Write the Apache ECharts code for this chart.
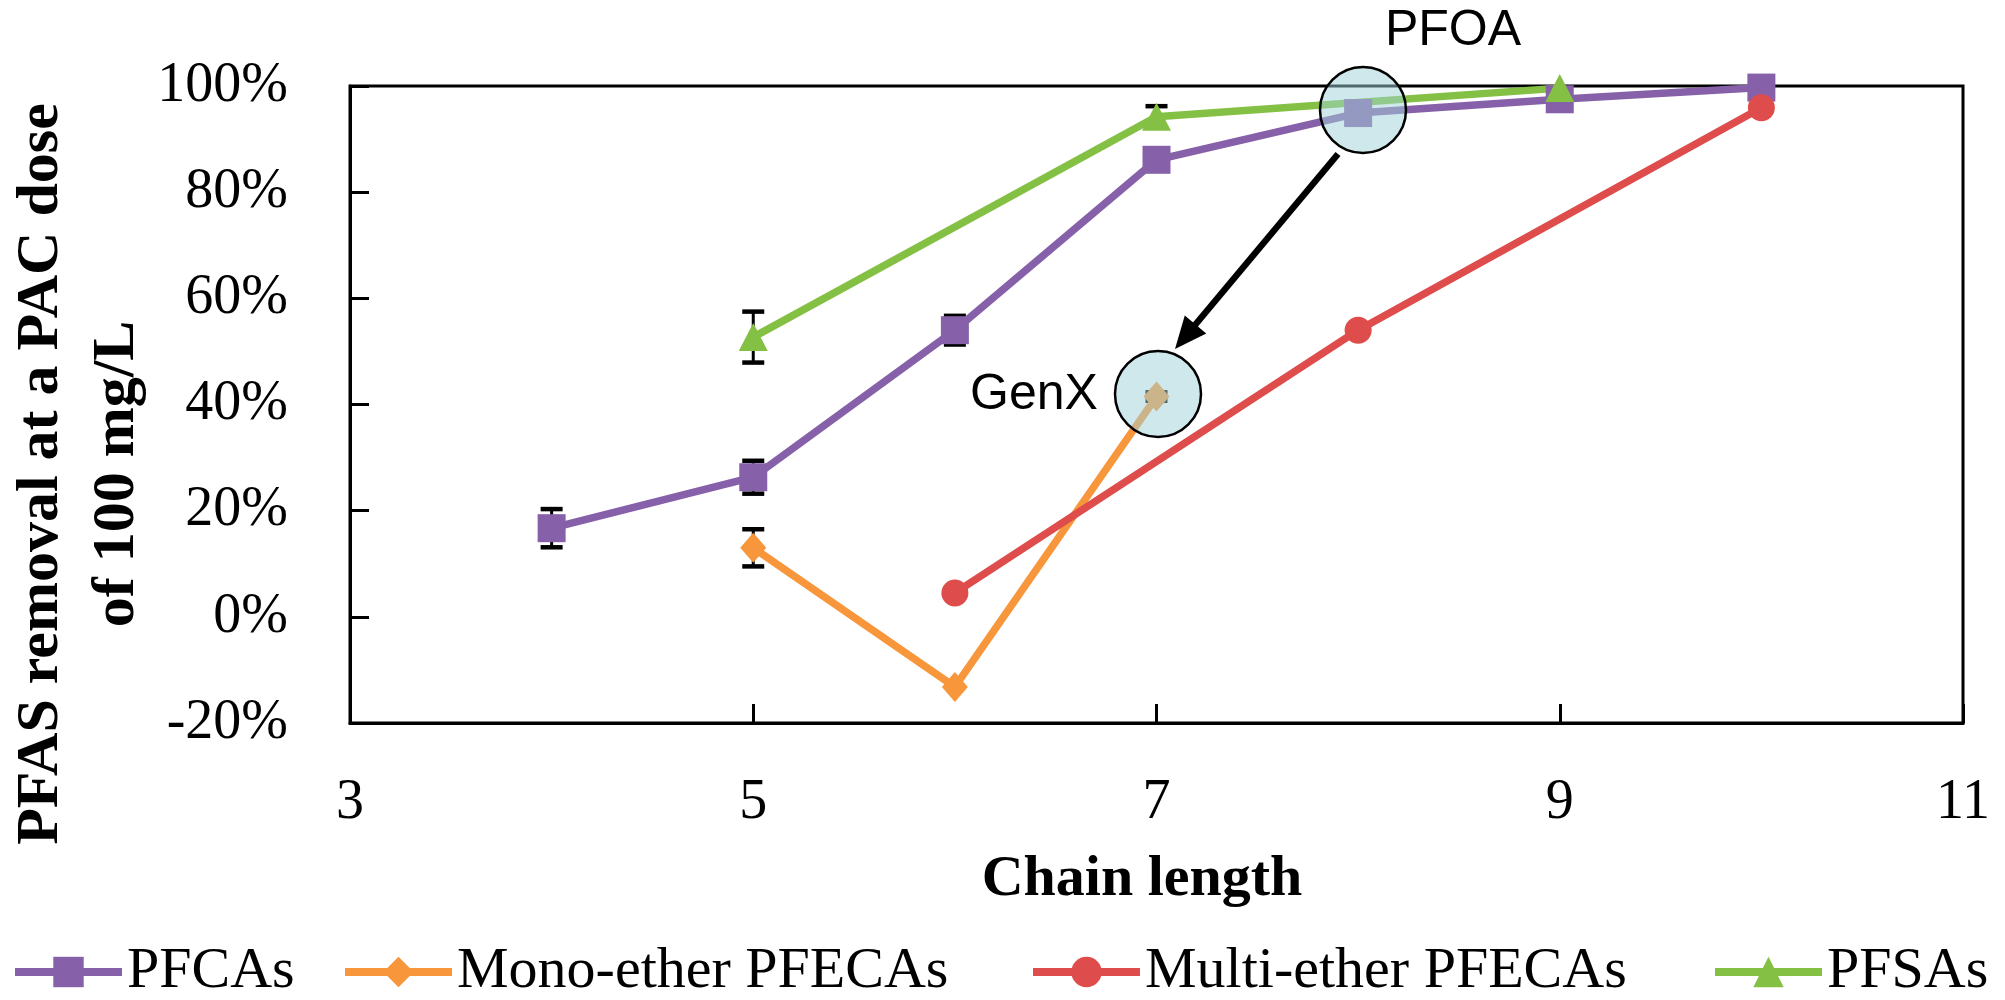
<!DOCTYPE html>
<html>
<head>
<meta charset="utf-8">
<script src="https://cdn.jsdelivr.net/npm/echarts@6.0.0/dist/echarts.min.js"></script>
<style>
html,body{margin:0;padding:0;background:#fff;}
#chart{width:2005px;height:1000px;}
</style>
</head>
<body>
<div id="chart"></div>
<script>
// ---- data ----
const seriesNames = ['PFCAs', 'Mono-ether PFECAs', 'Multi-ether PFECAs', 'PFSAs'];

const chainPFCA = [4, 5, 6, 7, 8, 9, 10];
const removalPFCA = [16.7, 26.3, 54.0, 86.1, 94.9, 97.5, 99.7];
const errPFCA = [3.6, 3.1, 2.7, 0, 0, 0, 0];

const chainMono = [5, 6, 7];
const removalMono = [13.0, -13.2, 41.5];
const errMono = [3.5, 0, 0.8];

const chainMulti = [6, 8, 10];
const removalMulti = [4.5, 54.0, 95.9];
const errMulti = [0, 0, 0];

const chainPFSA = [5, 7, 9];
const removalPFSA = [52.7, 94.2, 99.6];
const errPFSA = [4.8, 2.0, 0];

const xTickValues = [3, 5, 7, 9, 11];
const yMin = -20, yMax = 100, yStep = 20;

const colors = ['#8660A8', '#F7963B', '#DE4C4C', '#84C043'];
const symbols = ['rect', 'diamond', 'circle', 'triangle'];
const symbolSizes = [28, [26, 30], 27, [29, 28]];

// ---- helpers ----
function pairs(xs, ys) { return xs.map((x, i) => [x, ys[i]]); }
function errRows(xs, ys, es) { return xs.map((x, i) => [x, ys[i], es[i]]).filter(r => r[2] > 0); }

const chart = echarts.init(document.getElementById('chart'));

const lineData = [
  pairs(chainPFCA, removalPFCA),
  pairs(chainMono, removalMono),
  pairs(chainMulti, removalMulti),
  pairs(chainPFSA, removalPFSA)
];
const errData = [
  errRows(chainPFCA, removalPFCA, errPFCA),
  errRows(chainMono, removalMono, errMono),
  errRows(chainMulti, removalMulti, errMulti),
  errRows(chainPFSA, removalPFSA, errPFSA)
];

const serif = "'Liberation Serif', 'Times New Roman', serif";
const sans = "'Liberation Sans', Arial, sans-serif";

const errSeries = errData.map((rows, k) => ({
  type: 'custom',
  name: 'err-' + seriesNames[k],
  z: 1,
  data: rows,
  encode: { x: 0, y: 1 },
  silent: true,
  renderItem: (params, api) => {
    const x = api.value(0), y = api.value(1), e = api.value(2);
    const top = api.coord([x, y + e]);
    const bot = api.coord([x, y - e]);
    const hw = 11;
    return {
      type: 'group',
      children: [
        { type: 'line', shape: { x1: top[0], y1: top[1], x2: bot[0], y2: bot[1] }, style: { stroke: '#000', lineWidth: 3 } },
        { type: 'line', shape: { x1: top[0] - hw, y1: top[1], x2: top[0] + hw, y2: top[1] }, style: { stroke: '#000', lineWidth: 4.5 } },
        { type: 'line', shape: { x1: bot[0] - hw, y1: bot[1], x2: bot[0] + hw, y2: bot[1] }, style: { stroke: '#000', lineWidth: 4.5 } }
      ]
    };
  }
}));

const lineSeries = lineData.map((d, k) => ({
  type: 'line',
  name: seriesNames[k],
  data: d,
  z: 2,
  symbol: symbols[k],
  symbolSize: symbolSizes[k],
  showAllSymbol: true,
  clip: false,
  lineStyle: { color: colors[k], width: 7.5 },
  itemStyle: { color: colors[k] },
  emphasis: { disabled: true },
  animation: false
}));

const legendBase = {
  orient: 'horizontal',
  top: 943,
  padding: 0,
  itemGap: 0,
  itemWidth: 107,
  itemHeight: 38,
  selectedMode: false,
  lineStyle: { width: 8 },
  textStyle: { fontFamily: serif, fontSize: 58, color: '#000' }
};
const legendLefts = [11, 341, 1029, 1711];

// annotation geometry (pixel positions of the callout drawing)
const arrowStart = [1338, 154];
const arrowTip = [1175, 349];
const ux = arrowTip[0] - arrowStart[0], uy = arrowTip[1] - arrowStart[1];
const ulen = Math.hypot(ux, uy);
const dx = ux / ulen, dy = uy / ulen;
const headLen = 32, headHalf = 14;
const baseC = [arrowTip[0] - dx * headLen, arrowTip[1] - dy * headLen];
const perp = [-dy, dx];

const option = {
  animation: false,
  backgroundColor: '#fff',
  grid: {
    left: 350, right: 42, top: 86, bottom: 277,
    show: true, borderColor: '#000', borderWidth: 3, backgroundColor: 'transparent'
  },
  xAxis: {
    type: 'value',
    min: 3, max: 11, interval: 1,
    axisLine: { show: true, onZero: false, lineStyle: { color: '#000', width: 3 } },
    axisTick: { show: true, inside: true, length: 19, customValues: xTickValues, lineStyle: { color: '#000', width: 3 } },
    axisLabel: { show: true, customValues: xTickValues, margin: 52, fontFamily: serif, fontSize: 56, color: '#000' },
    splitLine: { show: false }
  },
  yAxis: {
    type: 'value',
    min: yMin, max: yMax, interval: yStep,
    axisLine: { show: true, onZero: false, lineStyle: { color: '#000', width: 3 } },
    axisTick: { show: true, inside: true, length: 19, lineStyle: { color: '#000', width: 3 } },
    axisLabel: { show: true, margin: 62, fontFamily: serif, fontSize: 56, color: '#000', formatter: '{value}%' },
    splitLine: { show: false }
  },
  legend: legendLefts.map((l, k) => Object.assign({}, legendBase, { left: l, data: [seriesNames[k]] })),
  series: errSeries.concat(lineSeries),
  graphic: [
    { type: 'text', x: 41, y: 474, rotation: Math.PI / 2, z: 100,
      style: { text: 'PFAS removal at a PAC dose', font: "bold 60px " + serif, fill: '#000', textAlign: 'center', textVerticalAlign: 'middle' } },
    { type: 'text', x: 117, y: 474, rotation: Math.PI / 2, z: 100,
      style: { text: 'of 100 mg/L', font: "bold 60px " + serif, fill: '#000', textAlign: 'center', textVerticalAlign: 'middle' } },
    { type: 'text', x: 1142, y: 880, z: 100,
      style: { text: 'Chain length', font: "bold 58px " + serif, fill: '#000', textAlign: 'center', textVerticalAlign: 'middle' } },
    { type: 'circle', z: 100, shape: { cx: 1363, cy: 110, r: 43 },
      style: { fill: 'rgba(160,210,216,0.5)', stroke: '#000', lineWidth: 2.5 } },
    { type: 'circle', z: 100, shape: { cx: 1158, cy: 394, r: 43 },
      style: { fill: 'rgba(160,210,216,0.5)', stroke: '#000', lineWidth: 2.5 } },
    { type: 'line', z: 100, shape: { x1: arrowStart[0], y1: arrowStart[1], x2: baseC[0] + dx * 4, y2: baseC[1] + dy * 4 },
      style: { stroke: '#000', lineWidth: 6.5 } },
    { type: 'polygon', z: 100, shape: { points: [
        arrowTip,
        [baseC[0] + perp[0] * headHalf, baseC[1] + perp[1] * headHalf],
        [baseC[0] - perp[0] * headHalf, baseC[1] - perp[1] * headHalf]
      ] }, style: { fill: '#000' } },
    { type: 'text', x: 1453, y: 31, z: 100,
      style: { text: 'PFOA', font: "50px " + sans, fill: '#000', textAlign: 'center', textVerticalAlign: 'middle' } },
    { type: 'text', x: 1034, y: 395, z: 100,
      style: { text: 'GenX', font: "50px " + sans, fill: '#000', textAlign: 'center', textVerticalAlign: 'middle' } }
  ]
};

chart.setOption(option);
</script>
</body>
</html>
